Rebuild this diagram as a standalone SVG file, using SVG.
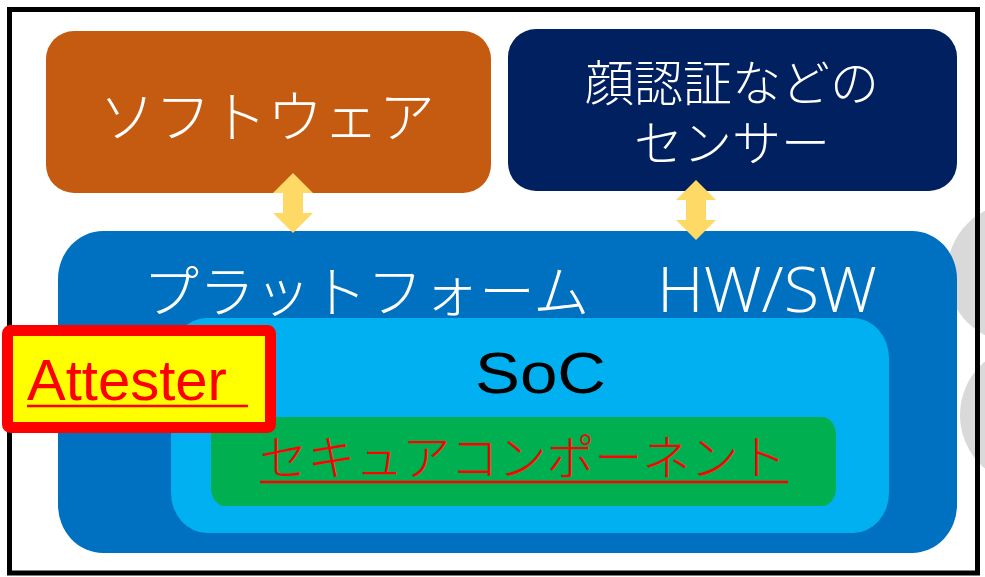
<svg xmlns="http://www.w3.org/2000/svg" width="985" height="577" viewBox="0 0 985 577">
<style>
.jp{font-family:"Noto Sans CJK JP","Noto Sans",sans-serif;font-weight:300;}
.lat{font-family:"Liberation Sans","DejaVu Sans",sans-serif;}
.thin{font-family:"Open Sans","Liberation Sans",sans-serif;font-weight:300;}
.w{fill:#FFFFFF;}
.arrow{fill:#FFD966;}
</style>
<rect x="0" y="0" width="985" height="577" fill="#FFFFFF"/>
<g id="bg-circles">
<circle cx="1017" cy="273" r="70" fill="#D9D9D9"/>
<circle cx="1030" cy="415" r="70" fill="#D9D9D9"/>
</g>
<rect id="frame" x="9.5" y="9.5" width="968" height="563.5" fill="none" stroke="#000000" stroke-width="5"/>
<g id="software">
<rect x="46" y="31" width="445" height="162" rx="28" fill="#C55A11"/>
<text class="jp w" x="267" y="137" font-size="56" text-anchor="middle">ソフトウェア</text>
</g>
<g id="sensor">
<rect x="508" y="29" width="449" height="162" rx="28" fill="#002060"/>
<text class="jp w" x="732" y="101" font-size="49" text-anchor="middle">顔認証などの</text>
<text class="jp w" x="732" y="161" font-size="49" text-anchor="middle">センサー</text>
</g>
<g id="platform">
<rect x="58" y="231" width="899" height="322" rx="45" ry="48" fill="#0070C0"/>
<text class="w" x="143" y="312"><tspan class="jp" font-size="56">プラットフォーム　</tspan><tspan class="thin" font-size="62" x="657" textLength="220" lengthAdjust="spacingAndGlyphs">HW/SW</tspan></text>
</g>
<g id="soc">
<rect x="171" y="318" width="718" height="215" rx="36" ry="40" fill="#00B0F0"/>
<text class="lat" x="475" y="393" font-size="57" fill="#000000" textLength="131" lengthAdjust="spacingAndGlyphs">SoC</text>
</g>
<g id="secure-component">
<rect x="211" y="417" width="625" height="89" rx="14" ry="18" fill="#00B050"/>
<text class="jp" x="523" y="475" font-size="48" fill="#FF0000" text-anchor="middle">セキュアコンポーネント</text>
<line x1="260" y1="482" x2="788" y2="482" stroke="#FF0000" stroke-width="2.5"/>
</g>
<g id="attester">
<rect x="7.5" y="330.5" width="263" height="97" rx="3" fill="#FFFF00" stroke="#FF0000" stroke-width="11"/>
<text class="lat" x="27" y="400" font-size="58" fill="#FF0000">Attester</text>
<line x1="27" y1="406" x2="248" y2="406" stroke="#FF0000" stroke-width="2.5"/>
</g>
<g id="connectors">
<polygon class="arrow" points="293,173 313,193 303,193 303,213 313,213 293,233 273,213 283,213 283,193 273,193"/>
<polygon class="arrow" points="696,180 716,200 706,200 706,220 716,220 696,240 676,220 686,220 686,200 676,200"/>
</g>
</svg>
